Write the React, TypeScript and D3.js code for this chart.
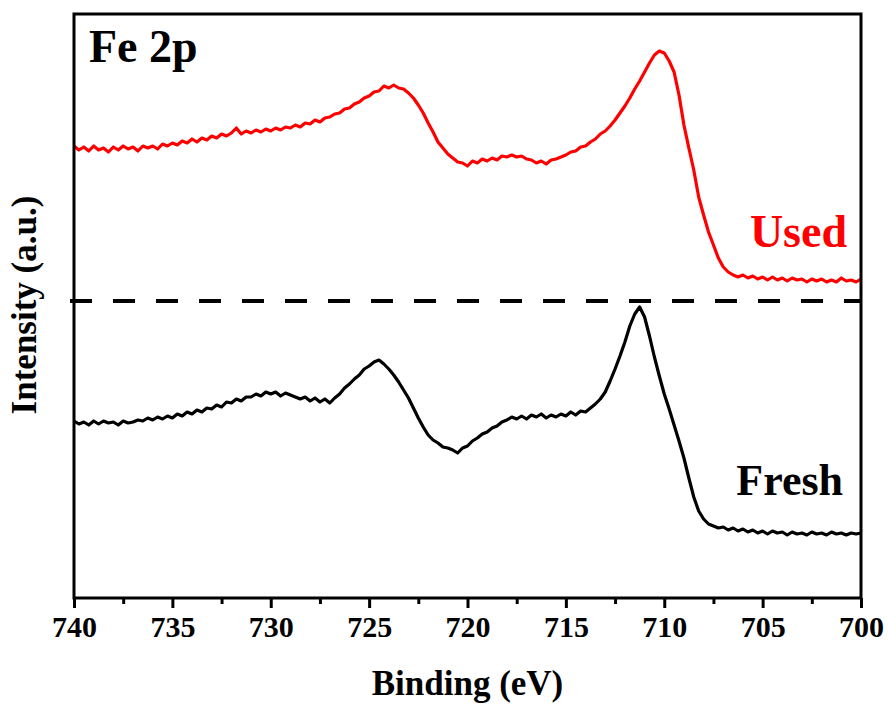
import React, { useRef, useEffect } from "react";
import * as d3 from "d3";

// [binding energy (eV), intensity (a.u.)]
const usedSpectrum: [number, number][] = [
  [740, 452], [739.75, 448], [739.5, 451], [739.25, 447], [739, 452], [738.75, 448], [738.5, 450], [738.25, 446],
  [738, 451], [737.75, 448], [737.5, 452], [737.25, 449], [737, 451], [736.75, 447], [736.5, 452], [736.25, 450],
  [736, 452], [735.75, 449], [735.5, 454], [735.25, 452], [735, 455], [734.75, 453], [734.5, 457], [734.25, 455],
  [734, 459], [733.75, 456], [733.5, 460], [733.25, 458], [733, 462], [732.75, 460], [732.5, 464], [732.25, 462],
  [732, 465], [731.75, 470], [731.5, 464], [731.25, 467], [731, 465], [730.75, 468], [730.5, 466], [730.25, 469],
  [730, 467], [729.75, 470], [729.5, 468], [729.25, 471], [729, 470], [728.75, 473], [728.5, 471], [728.25, 475],
  [728, 474], [727.75, 478], [727.5, 476], [727.25, 480], [727, 481], [726.75, 484], [726.5, 485], [726.25, 489],
  [726, 490], [725.75, 494], [725.5, 496], [725.25, 500], [725, 502], [724.75, 506], [724.5, 507], [724.25, 512],
  [724, 510], [723.75, 513], [723.5, 510], [723.25, 509], [723, 505], [722.75, 500], [722.5, 493], [722.25, 485],
  [722, 475], [721.75, 466], [721.5, 456], [721.25, 450], [721, 444], [720.75, 440], [720.5, 436], [720.25, 435],
  [720, 432], [719.75, 437], [719.5, 435], [719.25, 439], [719, 437], [718.75, 440], [718.5, 438], [718.25, 442],
  [718, 441], [717.75, 443], [717.5, 441], [717.25, 442], [717, 439], [716.75, 438], [716.5, 435], [716.25, 437],
  [716, 434], [715.75, 438], [715.5, 439], [715.25, 441], [715, 443], [714.75, 446], [714.5, 447], [714.25, 451],
  [714, 452], [713.75, 456], [713.5, 459], [713.25, 464], [713, 467], [712.75, 472], [712.5, 478], [712.25, 485],
  [712, 492], [711.75, 500], [711.5, 509], [711.25, 517], [711, 526], [710.75, 535], [710.5, 543], [710.25, 547],
  [710, 545], [709.75, 537], [709.5, 526], [709.25, 503], [709, 473], [708.75, 450], [708.5, 428], [708.25, 401],
  [708, 383], [707.75, 366], [707.5, 353], [707.25, 340], [707, 331], [706.75, 326], [706.5, 323], [706.25, 321],
  [706, 323], [705.75, 320], [705.5, 322], [705.25, 319], [705, 321], [704.75, 318], [704.5, 321], [704.25, 318],
  [704, 320], [703.75, 317], [703.5, 320], [703.25, 318], [703, 319], [702.75, 316], [702.5, 319], [702.25, 317],
  [702, 319], [701.75, 316], [701.5, 318], [701.25, 316], [701, 320], [700.75, 317], [700.5, 318], [700.25, 316],
  [700, 319],
];

const freshSpectrum: [number, number][] = [
  [740, 177], [739.75, 174], [739.5, 176], [739.25, 173], [739, 177], [738.75, 174], [738.5, 177], [738.25, 175],
  [738, 176], [737.75, 173], [737.5, 177], [737.25, 175], [737, 176], [736.75, 178], [736.5, 177], [736.25, 180],
  [736, 178], [735.75, 181], [735.5, 179], [735.25, 182], [735, 180], [734.75, 184], [734.5, 182], [734.25, 186],
  [734, 184], [733.75, 188], [733.5, 186], [733.25, 190], [733, 189], [732.75, 193], [732.5, 191], [732.25, 196],
  [732, 195], [731.75, 199], [731.5, 197], [731.25, 201], [731, 201], [730.75, 204], [730.5, 202], [730.25, 206],
  [730, 204], [729.75, 206], [729.5, 202], [729.25, 205], [729, 203], [728.75, 201], [728.5, 199], [728.25, 201],
  [728, 197], [727.75, 200], [727.5, 196], [727.25, 199], [727, 195], [726.75, 200], [726.5, 204], [726.25, 210],
  [726, 214], [725.75, 219], [725.5, 223], [725.25, 229], [725, 232], [724.75, 236], [724.5, 238], [724.25, 234],
  [724, 229], [723.75, 223], [723.5, 216], [723.25, 208], [723, 200], [722.75, 190], [722.5, 180], [722.25, 171],
  [722, 163], [721.75, 158], [721.5, 155], [721.25, 151], [721, 150], [720.75, 148], [720.5, 145], [720.25, 150],
  [720, 152], [719.75, 157], [719.5, 160], [719.25, 164], [719, 166], [718.75, 170], [718.5, 172], [718.25, 176],
  [718, 178], [717.75, 181], [717.5, 179], [717.25, 182], [717, 179], [716.75, 183], [716.5, 181], [716.25, 184],
  [716, 180], [715.75, 183], [715.5, 181], [715.25, 184], [715, 182], [714.75, 186], [714.5, 183], [714.25, 187],
  [714, 186], [713.75, 190], [713.5, 194], [713.25, 199], [713, 206], [712.75, 217], [712.5, 229], [712.25, 242],
  [712, 256], [711.75, 272], [711.5, 284], [711.25, 291], [711, 281], [710.75, 262], [710.5, 241], [710.25, 222],
  [710, 204], [709.75, 189], [709.5, 173], [709.25, 157], [709, 140], [708.75, 120], [708.5, 101], [708.25, 87],
  [708, 79], [707.75, 74], [707.5, 72], [707.25, 70], [707, 71], [706.75, 68], [706.5, 70], [706.25, 67],
  [706, 69], [705.75, 66], [705.5, 68], [705.25, 65], [705, 67], [704.75, 64], [704.5, 67], [704.25, 65],
  [704, 66], [703.75, 63], [703.5, 66], [703.25, 64], [703, 65], [702.75, 63], [702.5, 66], [702.25, 64],
  [702, 65], [701.75, 63], [701.5, 66], [701.25, 64], [701, 65], [700.75, 63], [700.5, 65], [700.25, 64],
  [700, 65],
];

const xTicks = [740, 735, 730, 725, 720, 715, 710, 705, 700];
const xMinorTicks = [737.5, 732.5, 727.5, 722.5, 717.5, 712.5, 707.5, 702.5];
const separatorLevel = 297;

const FONT = "'Liberation Serif', 'Times New Roman', serif";

const App: React.FC = () => {
  const ref = useRef<SVGSVGElement | null>(null);

  useEffect(() => {
    if (!ref.current) return;
    const svg = d3.select(ref.current);
    svg.selectAll("*").remove();

    const width = 888;
    const height = 704;
    const margin = { top: 14, right: 27, bottom: 106, left: 74 };

    const x = d3.scaleLinear().domain([740, 700]).range([margin.left, width - margin.right]);
    const y = d3.scaleLinear().domain([0, 584]).range([height - margin.bottom, margin.top]);

    const line = d3
      .line<[number, number]>()
      .x((d) => x(d[0]))
      .y((d) => y(d[1]));

    const series = [
      { data: freshSpectrum, color: "#000000" },
      { data: usedSpectrum, color: "#ff0000" },
    ];

    series.forEach((s) => {
      svg
        .append("path")
        .datum(s.data)
        .attr("fill", "none")
        .attr("stroke", s.color)
        .attr("stroke-width", 3.2)
        .attr("stroke-linejoin", "round")
        .attr("d", line);
    });

    // dashed separator between the two spectra
    svg
      .append("line")
      .attr("x1", x(740) - 4)
      .attr("x2", x(700))
      .attr("y1", y(separatorLevel))
      .attr("y2", y(separatorLevel))
      .attr("stroke", "#000")
      .attr("stroke-width", 4)
      .attr("stroke-dasharray", "22,21");

    // frame
    svg
      .append("rect")
      .attr("x", margin.left)
      .attr("y", margin.top)
      .attr("width", width - margin.left - margin.right)
      .attr("height", height - margin.top - margin.bottom)
      .attr("fill", "none")
      .attr("stroke", "#000")
      .attr("stroke-width", 3);

    const xAxis = svg
      .append("g")
      .attr("transform", `translate(0,${height - margin.bottom})`)
      .call(
        d3
          .axisBottom(x)
          .tickValues(xTicks)
          .tickSize(10)
          .tickPadding(8)
          .tickFormat(d3.format("d"))
      );
    xAxis.select(".domain").remove();
    xAxis.selectAll("line").attr("stroke-width", 3);
    xAxis
      .selectAll("text")
      .attr("font-family", FONT)
      .attr("font-weight", "bold")
      .attr("font-size", 30)
      .attr("fill", "#000");

    const xMinor = svg
      .append("g")
      .attr("transform", `translate(0,${height - margin.bottom})`)
      .call(d3.axisBottom(x).tickValues(xMinorTicks).tickSize(6).tickFormat(() => ""));
    xMinor.select(".domain").remove();
    xMinor.selectAll("line").attr("stroke-width", 3);

    svg
      .append("text")
      .attr("x", (margin.left + width - margin.right) / 2)
      .attr("y", 695)
      .attr("text-anchor", "middle")
      .attr("font-family", FONT)
      .attr("font-weight", "bold")
      .attr("font-size", 35)
      .text("Binding (eV)");

    svg
      .append("text")
      .attr("transform", `translate(36,305) rotate(-90)`)
      .attr("text-anchor", "middle")
      .attr("font-family", FONT)
      .attr("font-weight", "bold")
      .attr("font-size", 35)
      .text("Intensity (a.u.)");

    svg
      .append("text")
      .attr("x", 89)
      .attr("y", 62)
      .attr("font-family", FONT)
      .attr("font-weight", "bold")
      .attr("font-size", 46)
      .text("Fe 2p");

    svg
      .append("text")
      .attr("x", 847)
      .attr("y", 247)
      .attr("text-anchor", "end")
      .attr("font-family", FONT)
      .attr("font-weight", "bold")
      .attr("font-size", 46)
      .attr("fill", "#ff0000")
      .text("Used");

    svg
      .append("text")
      .attr("x", 843)
      .attr("y", 495)
      .attr("text-anchor", "end")
      .attr("font-family", FONT)
      .attr("font-weight", "bold")
      .attr("font-size", 44)
      .attr("fill", "#000")
      .text("Fresh");
  }, []);

  return (
    <svg
      ref={ref}
      width={888}
      height={704}
      style={{ position: "absolute", left: 0, top: 0, background: "#fff" }}
    />
  );
};

export default App;
